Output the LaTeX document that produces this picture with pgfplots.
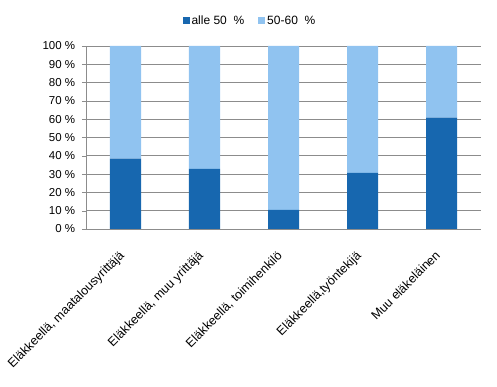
\documentclass[border=0pt]{standalone}
\usepackage{pgfplots}
\pgfplotsset{compat=1.18}
\usepackage{fontspec}
\setmainfont{Liberation Sans}
\definecolor{darkb}{HTML}{1767AF}
\definecolor{lightb}{HTML}{90C3F0}
\definecolor{gridg}{HTML}{8C8C8C}
\begin{document}
\fontsize{11bp}{13bp}\selectfont
\begin{tikzpicture}
\useasboundingbox (0,0) rectangle (497bp,387bp);
\begin{axis}[
  at={(86bp,158bp)}, anchor=south west,
  scale only axis, width=395bp, height=183bp,
  ybar stacked, bar width=31bp,
  xmin=-0.5, xmax=4.5, ymin=0, ymax=100,
  xtick={0,1,2,3,4},
  xticklabels={{Eläkkeellä, maatalousyrittäjä},{Eläkkeellä, muu yrittäjä},{Eläkkeellä, toimihenkilö},{Eläkkeellä,työntekijä},{Muu eläkeläinen}},
  x tick style={draw=none},
  extra x ticks={-0.5,0.5,1.5,2.5,3.5,4.5},
  extra x tick labels={},
  extra x tick style={tick style={draw=gridg}, xmajorgrids=false},
  xticklabel style={rotate=45, anchor=north east, xshift=-13bp, yshift=-3bp, font=\fontsize{12.5bp}{14bp}\selectfont},
  ytick={0,10,...,100},
  yticklabels={0 \%,10 \%,20 \%,30 \%,40 \%,50 \%,60 \%,70 \%,80 \%,90 \%,100 \%},
  yticklabel style={font=\fontsize{11.5bp}{13bp}\selectfont, xshift=-3bp},
  ymajorgrids, grid style={draw=gridg, line width=0.8pt},
  axis x line*=bottom, axis y line*=left,
  axis line style={draw=gridg, line width=0.8pt},
  tick align=outside, major tick length=4bp,
  y tick style={draw=gridg},
  legend style={at={(0.415,1.137)}, anchor=center, draw=none, fill=none,
    legend columns=2, font=\fontsize{12bp}{14bp}\selectfont,
    /tikz/every even column/.append style={column sep=12bp}},
  legend image code/.code={\fill[#1] (0bp,-3.5bp) rectangle (7bp,3.5bp);},
]
\addplot[fill=darkb, draw=none] coordinates {(0,38.4) (1,32.9) (2,10.5) (3,30.7) (4,60.8)};
\addplot[fill=lightb, draw=none] coordinates {(0,61.6) (1,67.1) (2,89.5) (3,69.3) (4,39.2)};
\legend{alle 50\ \ \%, 50-60\ \ \%}
\end{axis}
\end{tikzpicture}
\end{document}
